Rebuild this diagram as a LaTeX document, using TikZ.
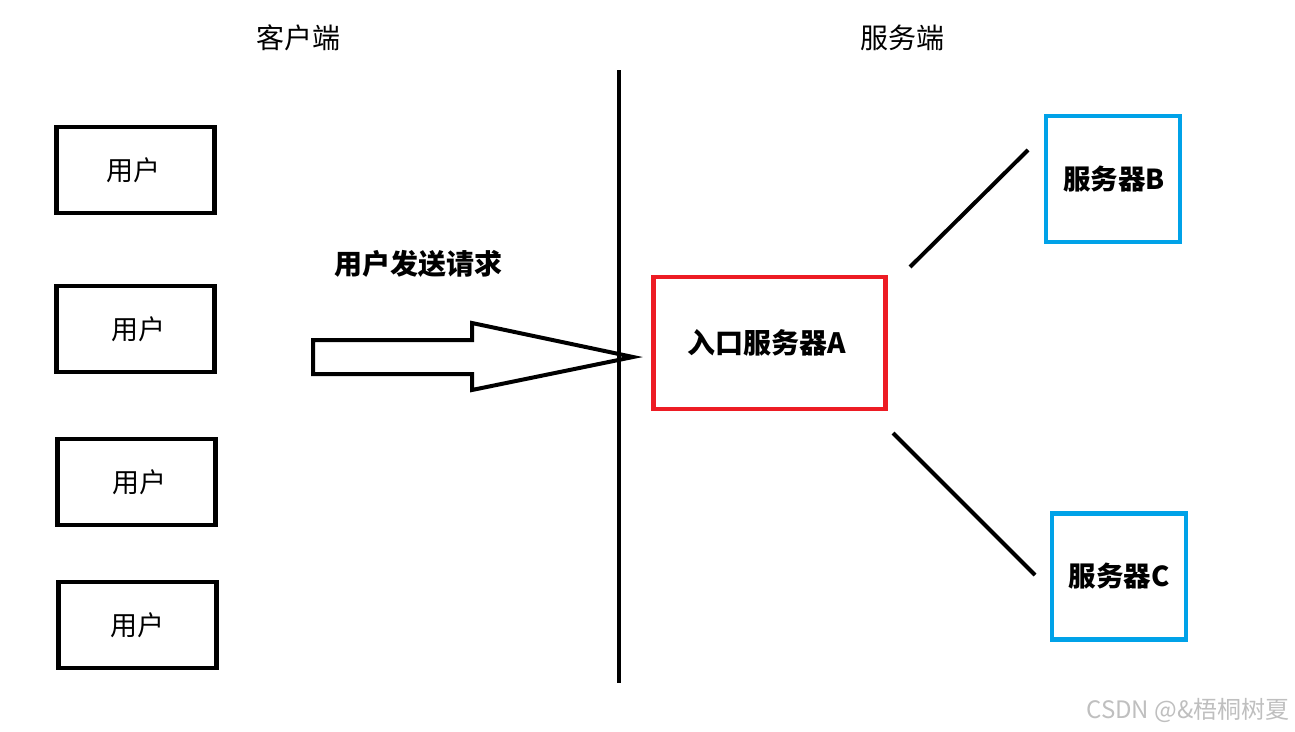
\documentclass[tikz,border=0pt]{standalone}
\usepackage{fontspec}
\setmainfont{Noto Sans CJK SC}
\definecolor{myblue}{HTML}{00A2E8}
\definecolor{myred}{HTML}{ED1C24}
\begin{document}
\begin{tikzpicture}[x=1pt,y=-1pt,
  userbox/.style={draw=black,line width=4.5pt,minimum width=158pt,minimum height=86pt,inner sep=0pt,font=\fontsize{27}{27}\selectfont},
  srvbox/.style={draw=myblue,line width=4.5pt,minimum width=134pt,minimum height=126pt,inner sep=0pt,font=\bfseries\fontsize{27.5}{27.5}\selectfont},
  title/.style={font=\fontsize{28}{28}\selectfont},
  link/.style={line width=4pt}]
\useasboundingbox (0,0) rectangle (1295,731);
\node[title] (tc) at (298,38) {客户端};
\node[title] (ts) at (902,38) {服务端};
\coordinate (vt) at (619,70);
\coordinate (vb) at (619,683);
\draw[line width=4pt] (vt) -- (vb);
\node[userbox] (u1) at (135.5,170) {\hspace*{-5pt}用户};
\node[userbox] (u2) at (135.5,329) {\hspace*{6pt}用户};
\node[userbox] (u3) at (136.5,482) {\hspace*{5pt}用户};
\node[userbox] (u4) at (137.5,625) {用户};
\node[font=\bfseries\fontsize{28}{28}\selectfont] (lbl) at (418,264) {用户发送请求};
\draw[line width=4pt,line join=miter] (313,340) -- (472,340) -- (472,323) -- (633,357) -- (472,390) -- (472,374) -- (313,374) -- cycle;
\node[draw=myred,line width=4.5pt,minimum width=232pt,minimum height=132pt,inner sep=0pt,font=\bfseries\fontsize{28}{28}\selectfont] (a) at (769.5,343) {\hspace*{-6pt}入口服务器A};
\node[srvbox] (b) at (1113,179) {\hspace*{2pt}服务器B};
\node[srvbox] (c) at (1119,576.5) {服务器C};
\coordinate (ab1) at (910,267);
\coordinate (ab2) at (1028,150);
\coordinate (ac1) at (893,433);
\coordinate (ac2) at (1035,575);
\draw[link] (ab1) -- (ab2);
\draw[link] (ac1) -- (ac2);
\node[text=black!25,font=\fontsize{24}{24}\selectfont] (wm) at (1188,710) {CSDN @\&梧桐树夏};
\end{tikzpicture}
\end{document}
